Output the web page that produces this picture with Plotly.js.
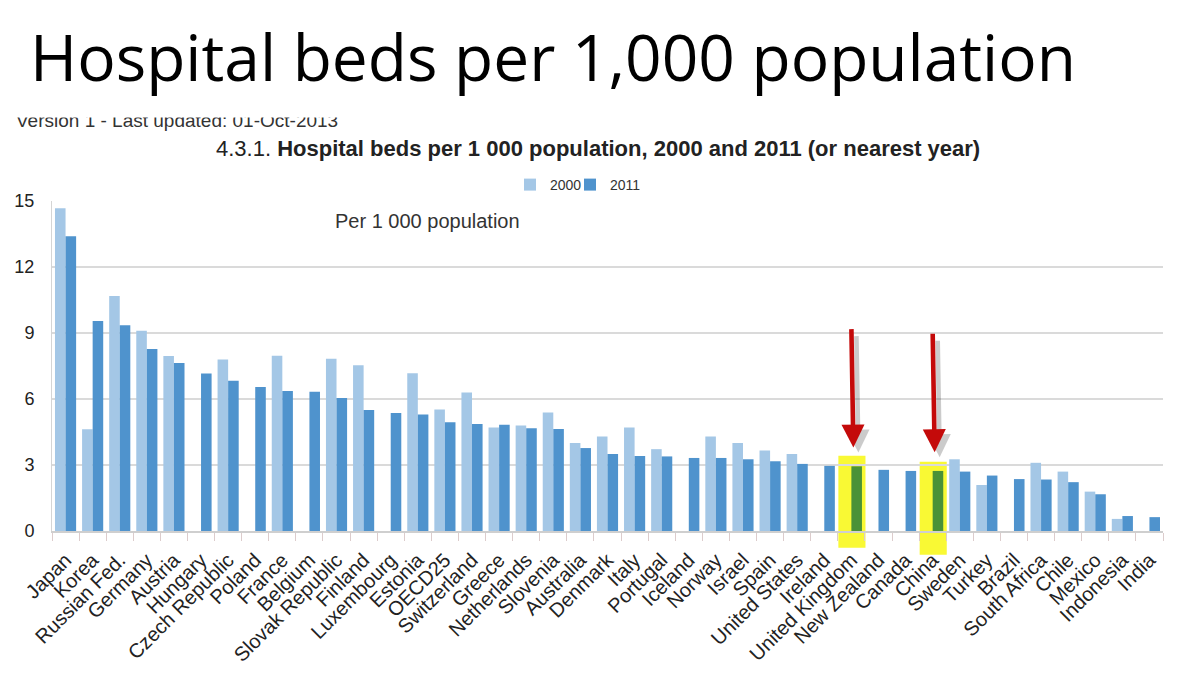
<!DOCTYPE html>
<html>
<head>
<meta charset="utf-8">
<script src="https://cdn.plot.ly/plotly-3.0.1.min.js"></script>
<style>html,body{margin:0;padding:0;background:#fff;}#chart{width:1200px;height:683px;}</style>
</head>
<body>
<div id="chart"></div>
<script>
const categories = ['Japan','Korea','Russian Fed.','Germany','Austria','Hungary','Czech Republic','Poland','France','Belgium','Slovak Republic','Finland','Luxembourg','Estonia','OECD25','Switzerland','Greece','Netherlands','Slovenia','Australia','Denmark','Italy','Portugal','Iceland','Norway','Israel','Spain','United States','Ireland','United Kingdom','New Zealand','Canada','China','Sweden','Turkey','Brazil','South Africa','Chile','Mexico','Indonesia','India'];
const beds2000 = [14.67,4.62,10.68,9.1,7.95,null,7.79,null,7.97,null,7.83,7.53,null,7.17,5.52,6.29,4.71,4.8,5.39,4.0,4.29,4.71,3.72,null,4.29,4.0,3.66,3.5,null,null,null,null,null,3.26,2.09,null,3.1,2.7,1.79,0.55,null];
const beds2011 = [13.4,9.55,9.35,8.27,7.64,7.16,6.83,6.54,6.36,6.33,6.05,5.5,5.36,5.3,4.94,4.86,4.83,4.67,4.64,3.77,3.5,3.41,3.39,3.32,3.32,3.26,3.17,3.05,2.96,2.94,2.78,2.73,2.73,2.7,2.52,2.36,2.34,2.22,1.67,0.68,0.63];
const highlighted = ['United Kingdom','China'];
const yTicks = [0,3,6,9,12,15];

const LIGHT = '#a4c7e6', DARK = '#4f93cd', GREEN = '#4a9237', YELLOW = '#f9f934', RED = '#c40a0a';
const darkColors = categories.map(c => highlighted.includes(c) ? GREEN : DARK);

const traces = [
  {type:'bar', name:'2000', x:categories, y:beds2000, marker:{color:LIGHT}, legend:'legend'},
  {type:'bar', name:'2011', x:categories, y:beds2011, marker:{color:darkColors}, legend:'legend2'}
];

// plot-area geometry helpers (pixels -> paper)
const M = {l:52, r:37, t:198, b:152};
const PW = 1200 - M.l - M.r, PH = 683 - M.t - M.b;
const px = p => (p - M.l) / PW;
const py = p => (683 - M.b - p) / PH;
const YMAX = 15;

const shapes = [];
const annotations = [];
highlighted.forEach((c, k) => {
  const i = categories.indexOf(c);
  const v = beds2011[i];
  const top = (v + (k === 0 ? 0.48 : 0.42)) / YMAX;
  const bottom = k === 0 ? py(548) : py(555);
  shapes.push({type:'rect', xref:'x', yref:'paper', x0:i-0.48, x1:i+0.52, y0:bottom, y1:top,
    fillcolor:YELLOW, line:{width:0}, layer:'below'});
  const tipY = v + 0.85;
  annotations.push({x:c, y:tipY, xref:'x', yref:'y', text:'', showarrow:true,
    arrowhead:2, arrowsize:1, arrowwidth:4.6, arrowcolor:'rgba(0,0,0,0.2)',
    ax:-2, ay:-118, xshift:7, yshift:-5, standoff:0});
  annotations.push({x:c, y:tipY, xref:'x', yref:'y', text:'', showarrow:true,
    arrowhead:2, arrowsize:1, arrowwidth:4.6, arrowcolor:RED,
    ax:-2, ay:-120, xshift:2, standoff:0});
});

const SANS = 'Liberation Sans, Arial, sans-serif';
annotations.push({xref:'paper', yref:'paper', x:px(14), y:py(117), xanchor:'left', yanchor:'middle',
  text:'Version 1 - Last updated: 01-Oct-2013', showarrow:false,
  font:{family:SANS, size:19, color:'#333'}});
annotations.push({xref:'paper', yref:'paper', x:px(0), y:py(114.5), xanchor:'left', yanchor:'bottom',
  text:' ', showarrow:false, width:420, height:16, bgcolor:'#ffffff', borderpad:0});
annotations.push({xref:'paper', yref:'paper', x:px(598), y:py(145), xanchor:'center', yanchor:'middle',
  text:'4.3.1. <b>Hospital beds per 1 000 population, 2000 and 2011 (or nearest year)</b>', showarrow:false,
  font:{family:SANS, size:22, color:'#222'}});
annotations.push({xref:'paper', yref:'paper', x:px(333), y:py(218), xanchor:'left', yanchor:'middle',
  text:'Per 1 000 population', showarrow:false,
  font:{family:SANS, size:20, color:'#333'}});

const legendBase = {orientation:'h', xref:'container', yref:'container', y:1-185/683, xanchor:'left', yanchor:'middle',
  font:{family:SANS, size:14, color:'#333'}, itemwidth:30, bgcolor:'rgba(0,0,0,0)'};

const layout = {
  width:1200, height:683,
  paper_bgcolor:'#fff', plot_bgcolor:'#fff',
  margin:M,
  title:{text:'Hospital beds per 1,000 population', xref:'container', yref:'container',
    x:30/1200, xanchor:'left', y:1-59/683, yanchor:'middle',
    font:{family:'Open Sans, sans-serif', size:64, color:'#000'}},
  barmode:'group', bargap:0.22, bargroupgap:0,
  showlegend:true,
  legend:Object.assign({}, legendBase, {x:510/1200}),
  legend2:Object.assign({}, legendBase, {x:570/1200}),
  xaxis:{type:'category', tickangle:-45, tickson:'boundaries', ticks:'outside', ticklen:8, tickcolor:'#dccccc',
    showline:true, linecolor:'#cfcfcf', linewidth:1.5, showgrid:false, ticklabelstandoff:8,
    tickfont:{family:SANS, size:20, color:'#222'}},
  yaxis:{range:[0,YMAX], tickvals:yTicks, ticktext:yTicks.map(String), showgrid:true, gridcolor:'#dadada', gridwidth:1.5,
    zeroline:false, showline:true, linecolor:'#d5d5d5', ticks:'', ticklabelstandoff:13,
    tickfont:{family:SANS, size:18, color:'#222'}},
  shapes:shapes, annotations:annotations
};
Plotly.newPlot('chart', traces, layout, {displayModeBar:false, staticPlot:true});
</script>
</body>
</html>
